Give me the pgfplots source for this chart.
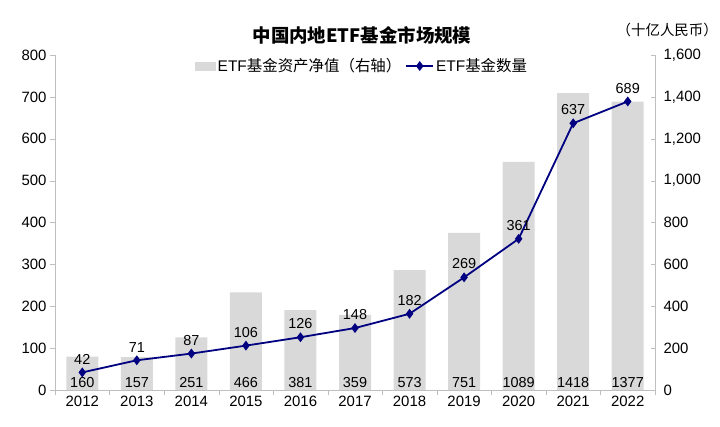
\documentclass[border=0pt]{standalone}
\usepackage{fontspec}
\setmainfont{Liberation Sans}
\newfontfamily\cjk{Noto Sans CJK SC}
\usepackage{pgfplots}
\pgfplotsset{compat=1.18}

\definecolor{bargray}{HTML}{D9D9D9}
\definecolor{linenavy}{HTML}{000080}
\definecolor{axgray}{HTML}{BFBFBF}

\newcommand{\tickfont}{\fontsize{15}{18}\selectfont}
\newcommand{\labfont}{\fontsize{14.5}{17}\selectfont}

\pgfplotsset{
    longline legend/.style={legend image code/.code={\draw[mark repeat=2, mark phase=2, ##1]
        plot coordinates {(0bp,0bp) (13.5bp,0bp) (27bp,0bp)};}},
}

\begin{document}
\begin{tikzpicture}[x=1bp,y=1bp]
\useasboundingbox (0,0) rectangle (720,426);

% right axis: net assets (bars)
\begin{axis}[
    at={(55bp,36bp)}, anchor=south west,
    scale only axis, width=600bp, height=335bp,
    xmin=-0.5, xmax=10.5, ymin=0, ymax=1600,
    axis x line=none, axis y line*=right,
    ytick={0,200,...,1600},
    y axis line style={axgray},
    ytick style={axgray}, tick align=inside, major tick length=4bp,
    yticklabel style={font=\tickfont, black, xshift=5bp},
    /pgf/number format/assume math mode=true,
    clip=false,
]
\addplot[ybar, bar width=32bp, fill=bargray, draw=none] coordinates {
    (0,160) (1,157) (2,251) (3,466) (4,381) (5,359)
    (6,573) (7,751) (8,1089) (9,1418) (10,1377)
};
\addplot[draw=none, nodes near coords, point meta=explicit symbolic,
    every node near coord/.append style={font=\labfont, black, anchor=south, yshift=-1bp}]
    coordinates {
    (0,0) [160] (1,0) [157] (2,0) [251] (3,0) [466] (4,0) [381] (5,0) [359]
    (6,0) [573] (7,0) [751] (8,0) [1089] (9,0) [1418] (10,0) [1377]
};
\end{axis}

% left axis: number of funds (line)
\begin{axis}[
    at={(55bp,36bp)}, anchor=south west,
    scale only axis, width=600bp, height=335bp,
    xmin=-0.5, xmax=10.5, ymin=0, ymax=800,
    axis y line*=left, axis x line*=bottom,
    axis line style={axgray},
    ytick={0,100,...,800},
    xtick={-0.5,0.5,...,10.5}, xticklabels={},
    extra x ticks={0,...,10},
    extra x tick labels={2012,2013,2014,2015,2016,2017,2018,2019,2020,2021,2022},
    extra x tick style={major tick length=0pt},
    tick style={axgray}, tick align=outside, major tick length=5bp,
    ticklabel style={font=\tickfont, black},
    xticklabel style={yshift=-3bp},
    /pgf/number format/assume math mode=true,
    clip=false,
    legend style={at={(0.512,0.967)}, anchor=center, draw=none, fill=none,
        legend columns=2, font=\fontsize{15.5}{18}\selectfont,
        /tikz/every even column/.append style={column sep=2bp}},
]
\addlegendimage{legend image code/.code={\fill[bargray] (0bp,-4bp) rectangle (20bp,4bp);}}
\addlegendentry{ETF{\cjk 基金资产净值（右轴）}}
\addplot[linenavy, line width=1.8bp, mark=diamond*, mark size=3.5bp,
    mark options={solid, fill=linenavy}, longline legend,
    nodes near coords, point meta=explicit symbolic,
    every node near coord/.append style={font=\labfont, black, yshift=4bp}]
    coordinates {
    (0,42) [42] (1,71) [71] (2,87) [87] (3,106) [106] (4,126) [126] (5,148) [148]
    (6,182) [182] (7,269) [269] (8,361) [361] (9,637) [637] (10,689) [689]
};
\addlegendentry{ETF{\cjk 基金数量}}
\end{axis}

\node[font=\cjk\bfseries\fontsize{18.5}{22}\selectfont] at (362,391) {中国内地ETF基金市场规模};
\node[font=\cjk\fontsize{14.5}{17}\selectfont, anchor=east, inner sep=0pt] at (718,396) {（十亿人民币）};
\end{tikzpicture}
\end{document}
